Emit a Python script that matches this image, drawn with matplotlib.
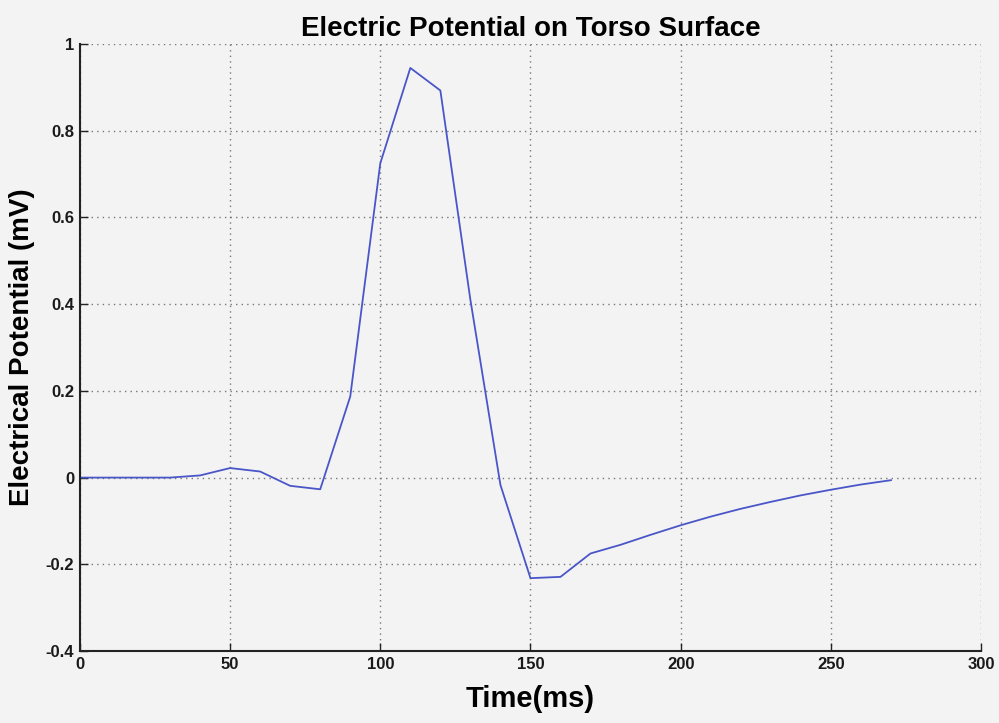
import matplotlib
matplotlib.use("Agg")
import matplotlib.pyplot as plt

time_ms = [0, 10, 20, 30, 40, 50, 60, 70, 80, 90, 100, 110, 120, 130, 140,
           150, 160, 170, 180, 190, 200, 210, 220, 230, 240, 250, 260, 270]
potential_mv = [0, 0, 0, 0, 0.005, 0.022, 0.014, -0.019, -0.027, 0.187, 0.725, 0.945, 0.893, 0.41, -0.017,
                -0.232, -0.229, -0.175, -0.155, -0.132, -0.11, -0.09, -0.072, -0.056, -0.041, -0.028, -0.016, -0.006]

xticks = [0, 50, 100, 150, 200, 250, 300]
yticks = [-0.4, -0.2, 0, 0.2, 0.4, 0.6, 0.8, 1]
ytick_labels = ["-0.4", "-0.2", "0", "0.2", "0.4", "0.6", "0.8", "1"]

plt.rcParams['font.family'] = ['Liberation Sans', 'DejaVu Sans']

bg = "#f3f3f3"
fig = plt.figure(figsize=(9.99, 7.23), dpi=100, facecolor=bg)
ax = fig.add_axes([0.080, 0.0996, 0.902, 0.8394], facecolor=bg)

ax.plot(time_ms, potential_mv, color="#4a56c8", linewidth=1.3)

ax.set_xlim(0, 300)
ax.set_ylim(-0.4, 1)
ax.set_xticks(xticks)
ax.set_xticklabels([str(t) for t in xticks], fontsize=12, fontweight='bold', color="#1a1a1a")
ax.set_yticks(yticks)
ax.set_yticklabels(ytick_labels, fontsize=12, fontweight='bold', color="#1a1a1a")
ax.tick_params(direction='in', length=6, width=1, pad=4, color="#222222")

ax.grid(True, linestyle=(0, (1, 3)), color="#777777", linewidth=1)
for s in ['top', 'right']:
    ax.spines[s].set_visible(False)
for s in ['left', 'bottom']:
    ax.spines[s].set_linewidth(1.5)
    ax.spines[s].set_color("#222222")

ax.set_title("Electric Potential on Torso Surface", fontsize=20, fontweight='bold', pad=6)
ax.set_xlabel("Time(ms)", fontsize=21, fontweight='bold', labelpad=10)
ax.set_ylabel("Electrical Potential (mV)", fontsize=20, fontweight='bold', labelpad=8)

fig.savefig("out.png", dpi=100, facecolor=bg)
